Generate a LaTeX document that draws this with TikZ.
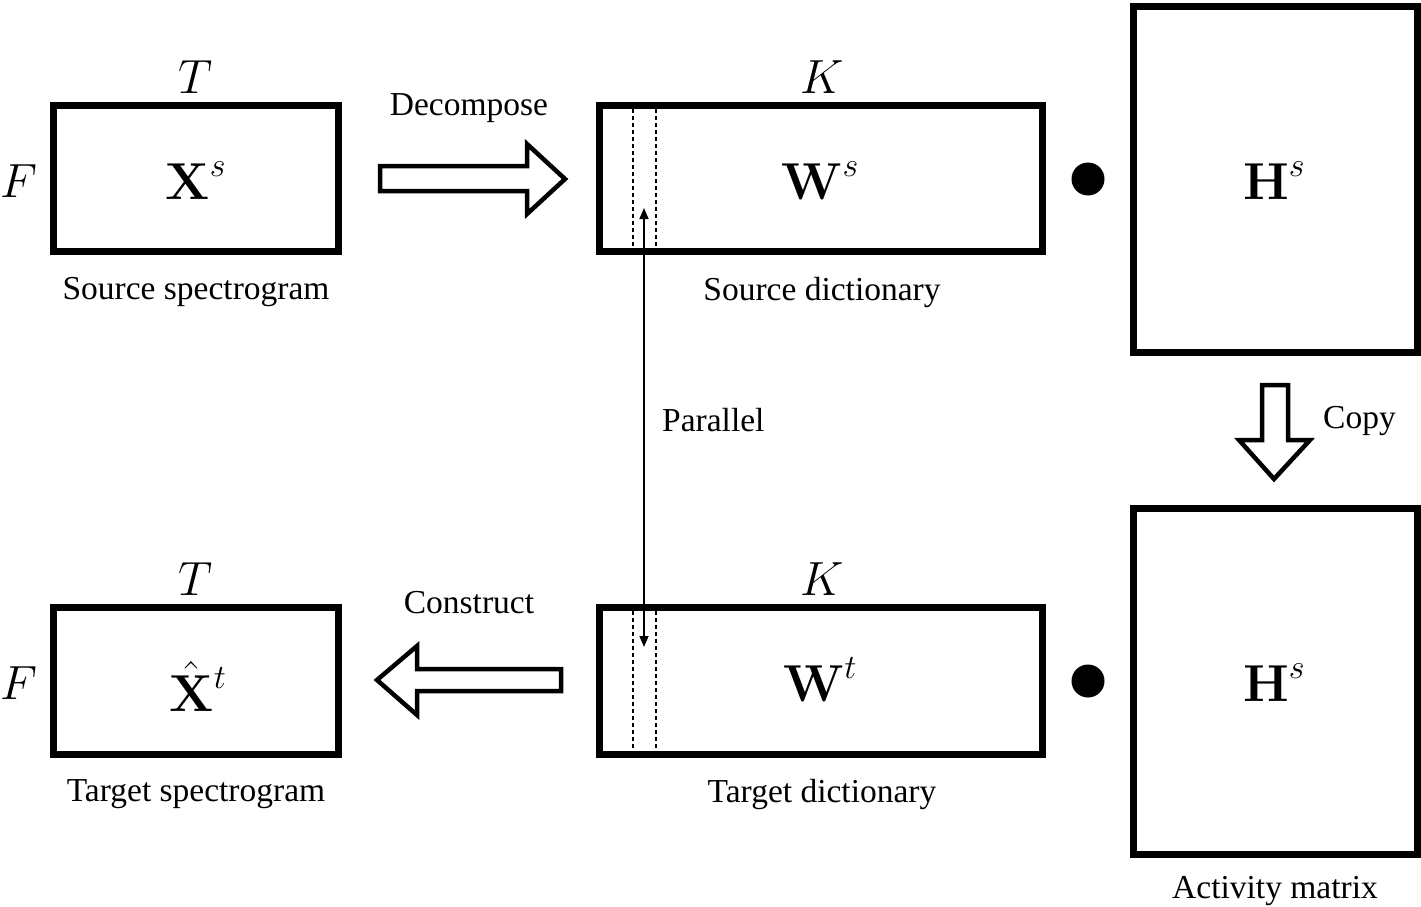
\RequirePackage{fix-cm}
\documentclass[tikz,border=0pt]{standalone}
\usepackage[no-math]{fontspec}
\newfontfamily\labfont{Liberation Serif}
\usetikzlibrary{arrows.meta}
\DeclareMathSizes{52}{52}{34}{25}
\DeclareMathSizes{48}{48}{33}{24}
\newcommand{\supr}[1]{^{\raisebox{4pt}{$\scriptstyle #1$}}}
\begin{document}
\begin{tikzpicture}[x=1pt,y=-1pt,
  mat/.style={draw,line width=7pt,fill=white},
  lab/.style={font=\labfont\fontsize{33.5}{40}\selectfont,inner sep=0pt},
  dim/.style={font=\fontsize{48}{56}\selectfont,inner sep=0pt},
  sym/.style={font=\fontsize{52}{60}\selectfont,inner sep=0pt,anchor=base},
  fat/.style={draw,line width=4.5pt,fill=white,line join=miter},
  dsh/.style={line width=2pt,dash pattern=on 4pt off 3pt},
  dotc/.style={circle,fill=black,minimum size=33pt,inner sep=0pt}]
\useasboundingbox (0,0) rectangle (1421,907);
% boxes
\draw[mat] (53.5,105.5) rectangle (338.5,251.5);
\draw[mat] (599,105.5) rectangle (1042,251.5);
\draw[mat] (1133,7) rectangle (1417,352);
\draw[mat] (53.5,607) rectangle (338.5,754);
\draw[mat] (599,607) rectangle (1042,754);
\draw[mat] (1133,508) rectangle (1417,854);
% dashed columns
\draw[dsh] (633,109) -- (633,248);
\draw[dsh] (656,109) -- (656,248);
\draw[dsh] (633,611) -- (633,750);
\draw[dsh] (656,611) -- (656,750);
% symbols
\node[sym] (xs) at (196,199) {$\mathbf{X}\supr{s}$};
\node[sym] (ws) at (820,199) {$\mathbf{W}\supr{s}$};
\node[sym] (hs1) at (1274,199) {$\mathbf{H}\supr{s}$};
\node[sym] (xt) at (198,711) {$\hat{\mathbf{X}}\supr{t}$};
\node[sym] (wt) at (820,701) {$\mathbf{W}\supr{t}$};
\node[sym] (hs2) at (1274,701) {$\mathbf{H}\supr{s}$};
% dimension labels
\node[dim] (t1) at (196,77) {$T$};
\node[dim] (k1) at (822,77) {$K$};
\node[dim] (f1) at (19,181) {$F$};
\node[dim] (t2) at (196,579) {$T$};
\node[dim] (k2) at (822,579) {$K$};
\node[dim] (f2) at (19,683) {$F$};
% dots
\node[dotc] (d1) at (1088,179) {};
\node[dotc] (d2) at (1088,681) {};
% captions
\node[lab] (c1) at (196,292) {Source spectrogram};
\node[lab] (c2) at (822,292) {Source dictionary};
\node[lab] (c3) at (196,794) {Target spectrogram};
\node[lab] (c4) at (822,794) {Target dictionary};
\node[lab] (c5) at (1275,891) {Activity matrix};
\node[lab] (l1) at (469,108) {Decompose};
\node[lab] (l2) at (469,603) {Construct};
\node[lab,anchor=west] (l3) at (662,420) {Parallel};
\node[lab,anchor=west] (l4) at (1323,421) {Copy};
% fat arrows
\draw[fat] (380,166) -- (527,166) -- (527,144) -- (565,179) -- (527,214) -- (527,191) -- (380,191) -- cycle;
\draw[fat] (561,669) -- (417,669) -- (417,646) -- (377,680) -- (417,715) -- (417,691) -- (561,691) -- cycle;
\draw[fat] (1262,385) -- (1288,385) -- (1288,440) -- (1310,440) -- (1274,479) -- (1239,440) -- (1262,440) -- cycle;
% parallel arrow
\coordinate (pa) at (644,208);
\coordinate (pb) at (644,647);
\draw[line width=1.6pt,{Triangle[length=11pt,width=9pt]}-{Triangle[length=11pt,width=9pt]}] (pa) -- (pb);
\end{tikzpicture}
\end{document}
